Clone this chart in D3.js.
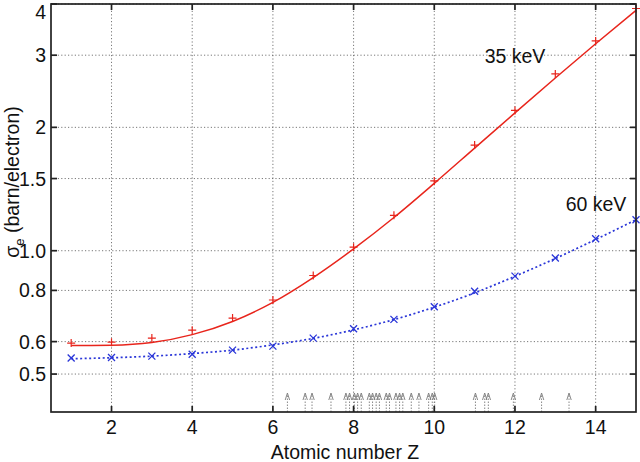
<!DOCTYPE html>
<html><head><meta charset="utf-8">
<script src="https://cdn.jsdelivr.net/npm/d3@7"></script>
<style>body{margin:0;background:#fff}svg{display:block}text{font-family:"Liberation Sans",Arial,sans-serif;fill:#111}</style>
</head><body><svg id="c" width="640" height="462"></svg>
<script>
const Z = [1,2,3,4,5,6,7,8,9,10,11,12,13,14,15];
const kev35Points = [0.595,0.598,0.612,0.64,0.685,0.758,0.87,1.02,1.22,1.48,1.81,2.2,2.7,3.25,3.9];
const kev35Fit    = [0.587,0.588,0.597,0.624,0.672,0.748,0.86,1.01,1.205,1.46,1.78,2.17,2.64,3.2,3.86];
const kev60Points = [0.547,0.549,0.553,0.559,0.572,0.585,0.612,0.645,0.68,0.73,0.796,0.867,0.96,1.07,1.19];
const kev60Fit    = [0.545,0.548,0.553,0.561,0.572,0.589,0.611,0.641,0.679,0.728,0.789,0.866,0.957,1.065,1.19];
const xTicks = [2,4,6,8,10,12,14];
const yTicks = [0.5,0.6,0.8,1.0,1.5,2,3,4];
const yTickLabels = ["0.5","0.6","0.8","1.0","1.5","2","3","4"];
const markerZ = [6.36,6.80,6.97,7.44,7.81,7.90,8.02,8.10,8.19,8.39,8.47,8.56,8.64,8.81,8.89,9.05,9.14,9.22,9.43,9.62,9.86,9.95,10.01,11.02,11.25,11.34,11.96,12.66,13.34];

const svg = d3.select("#c");
const L=51,R=636,T=4,B=412;
const FS=19.5;
const x = d3.scaleLinear().domain([0.5,15]).range([L,R]);
const y = d3.scaleLog().domain([0.404,4]).range([B,T]);

// grid
const g = svg.append("g");
g.selectAll(".vg").data(xTicks).enter().append("line")
 .attr("x1",d=>x(d)).attr("x2",d=>x(d)).attr("y1",T).attr("y2",B)
 .attr("stroke","#555").attr("stroke-width",0.8).attr("stroke-dasharray","1.2,2.2");
g.selectAll(".hg").data(yTicks).enter().append("line")
 .attr("y1",d=>y(d)).attr("y2",d=>y(d)).attr("x1",L).attr("x2",R)
 .attr("stroke","#555").attr("stroke-width",0.8).attr("stroke-dasharray","1.2,2.2");

// absorption edge markers
const mg = svg.append("g").attr("stroke","#7a7a7a").attr("fill","none").attr("stroke-width",0.9);
markerZ.forEach(z=>{
  const px=x(z);
  mg.append("line").attr("x1",px).attr("x2",px).attr("y1",B).attr("y2",B-17).attr("stroke-dasharray","1.5,1.5");
  mg.append("path").attr("d",`M${px-2.2},${B-12}L${px},${B-19}L${px+2.2},${B-12}`);
});

// lines
const line = d3.line().x((d,i)=>x(Z[i])).y(d=>y(d)).curve(d3.curveMonotoneX);
svg.append("path").datum(kev35Fit).attr("d",line).attr("fill","none").attr("stroke","#e8251c").attr("stroke-width",1.5);
svg.append("path").datum(kev60Fit).attr("d",line).attr("fill","none").attr("stroke","#2a36d8").attr("stroke-width",1.7).attr("stroke-dasharray","2,2.5");

// markers
const pg = svg.append("g").attr("stroke","#e8251c").attr("stroke-width",1.2);
kev35Points.forEach((v,i)=>{
  const px=x(Z[i]),py=y(v);
  pg.append("path").attr("d",`M${px-4},${py}H${px+4}M${px},${py-4}V${py+4}`);
});
const xg = svg.append("g").attr("stroke","#2a36d8").attr("stroke-width",1.3);
kev60Points.forEach((v,i)=>{
  const px=x(Z[i]),py=y(v);
  xg.append("path").attr("d",`M${px-3.5},${py-3.5}L${px+3.5},${py+3.5}M${px-3.5},${py+3.5}L${px+3.5},${py-3.5}`);
});

// frame and ticks
svg.append("rect").attr("x",L).attr("y",T).attr("width",R-L).attr("height",B-T)
 .attr("fill","none").attr("stroke","#222").attr("stroke-width",1.7);
const tg = svg.append("g").attr("stroke","#222").attr("stroke-width",1.7);
xTicks.forEach(d=>{
  tg.append("line").attr("x1",x(d)).attr("x2",x(d)).attr("y1",B).attr("y2",B-6);
  tg.append("line").attr("x1",x(d)).attr("x2",x(d)).attr("y1",T).attr("y2",T+6);
});
yTicks.forEach(d=>{
  tg.append("line").attr("y1",y(d)).attr("y2",y(d)).attr("x1",L).attr("x2",L+6);
  tg.append("line").attr("y1",y(d)).attr("y2",y(d)).attr("x1",R).attr("x2",R-6);
});

// tick labels
svg.selectAll(".xl").data(xTicks).enter().append("text")
 .attr("x",d=>x(d)).attr("y",434).attr("text-anchor","middle").attr("font-size",FS).text(d=>d);
svg.selectAll(".yl").data(yTicks).enter().append("text")
 .attr("x",46).attr("y",d=>Math.max(y(d)+7,18.5)).attr("text-anchor","end").attr("font-size",FS).text((d,i)=>yTickLabels[i]);

// axis titles
svg.append("text").attr("x",345).attr("y",459).attr("text-anchor","middle").attr("font-size",FS).text("Atomic number Z");
const yt = svg.append("text").attr("transform","translate(19,182) rotate(-90)").attr("text-anchor","middle").attr("font-size",FS);
yt.append("tspan").text("σ");
yt.append("tspan").attr("font-size",13).attr("dy",5).text("e");
yt.append("tspan").attr("dy",-5).text(" (barn/electron)");

// series labels
svg.append("text").attr("x",515).attr("y",63).attr("text-anchor","middle").attr("font-size",FS).text("35 keV");
svg.append("text").attr("x",596).attr("y",211).attr("text-anchor","middle").attr("font-size",FS).text("60 keV");
</script></body></html>
